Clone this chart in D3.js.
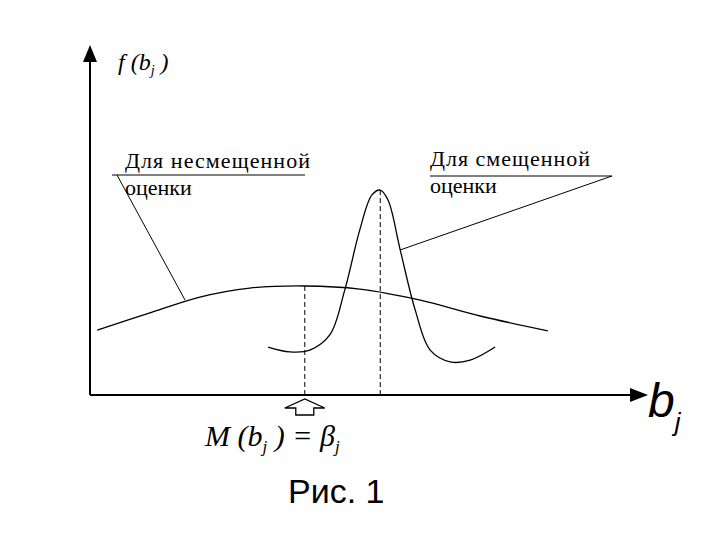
<!DOCTYPE html>
<html><head><meta charset="utf-8">
<script src="https://cdn.jsdelivr.net/npm/d3@7"></script>
<style>body{margin:0;background:#fff}</style></head>
<body><div class="canvas"></div>
<script>
// curves in chart units (x 0..100, y 0..100)
const unbiasedX = [1.3, 10.8, 19.8, 28.8, 38.7, 48.6, 59.5, 70.3, 82.5]
const unbiasedY = [18.8, 23.8, 28.4, 31.0, 31.6, 30.7, 27.5, 22.9, 18.6]
const biasedX = [32.1, 36.0, 39.6, 43.2, 45.9, 48.6, 50.8, 52.3, 53.7, 55.9, 58.6, 61.3, 64.9, 68.5, 73.0]
const biasedY = [13.9, 12.5, 13.0, 17.4, 30.4, 47.8, 58.0, 59.4, 56.5, 42.0, 24.6, 13.0, 9.6, 10.1, 13.9]
const peaks = [{ x: 38.7, y: 31.6 }, { x: 52.3, y: 59.4 }]
const labels = ['Для несмещенной', 'оценки', 'Для смещенной', 'оценки']

const svg = d3.select('.canvas').append('svg')
  .attr('width', 720).attr('height', 540)

const x = d3.scaleLinear().domain([0, 100]).range([90, 645])
const y = d3.scaleLinear().domain([0, 100]).range([395, 50])

// axes
svg.append('line').attr('x1', 90).attr('y1', 395).attr('x2', 90).attr('y2', 50)
  .attr('stroke', '#000').attr('stroke-width', 2)
svg.append('line').attr('x1', 90).attr('y1', 395).attr('x2', 645).attr('y2', 395)
  .attr('stroke', '#000').attr('stroke-width', 2)
svg.append('path').attr('d', 'M83,62 L90,45 L97,62 Z').attr('fill', '#000')
svg.append('path').attr('d', 'M630,388 L648,395 L630,402 Z').attr('fill', '#000')

const line = d3.line().x(d => x(d[0])).y(d => y(d[1])).curve(d3.curveCatmullRom)
svg.append('path').attr('d', line(d3.zip(unbiasedX, unbiasedY)))
  .attr('fill', 'none').attr('stroke', '#000').attr('stroke-width', 1.3)
svg.append('path').attr('d', line(d3.zip(biasedX, biasedY)))
  .attr('fill', 'none').attr('stroke', '#000').attr('stroke-width', 1.3)

svg.selectAll('line.drop').data(peaks).enter().append('line')
  .attr('x1', d => x(d.x)).attr('x2', d => x(d.x))
  .attr('y1', d => y(d.y)).attr('y2', 395)
  .attr('stroke', '#000').attr('stroke-dasharray', '5,3')

// hollow arrow under expectation
const ax = x(peaks[0].x)
svg.append('path')
  .attr('d', `M${ax - 9},415 L${ax - 9},408 L${ax - 20},408 L${ax},399 L${ax + 20},408 L${ax + 9},408 L${ax + 9},415 Z`)
  .attr('fill', 'none').attr('stroke', '#000').attr('stroke-width', 1.3)

// labels with leaders
const serif = 'Liberation Serif, Times New Roman, serif'
svg.append('text').attr('x', 125).attr('y', 168).text(labels[0])
  .attr('font-family', serif).attr('font-size', 22).attr('textLength', 185)
svg.append('text').attr('x', 125).attr('y', 195).text(labels[1])
  .attr('font-family', serif).attr('font-size', 22)
svg.append('line').attr('x1', 112).attr('y1', 175).attr('x2', 305).attr('y2', 175).attr('stroke', '#000')
svg.append('line').attr('x1', 117).attr('y1', 175).attr('x2', 185).attr('y2', 300).attr('stroke', '#000')

svg.append('text').attr('x', 430).attr('y', 166).text(labels[2])
  .attr('font-family', serif).attr('font-size', 22).attr('textLength', 160)
svg.append('text').attr('x', 430).attr('y', 193).text(labels[3])
  .attr('font-family', serif).attr('font-size', 22)
svg.append('line').attr('x1', 430).attr('y1', 176).attr('x2', 612).attr('y2', 176).attr('stroke', '#000')
svg.append('line').attr('x1', 612).attr('y1', 176).attr('x2', 400).attr('y2', 250).attr('stroke', '#000')

// axis titles
const fy = svg.append('text').attr('x', 118).attr('y', 70)
  .attr('font-family', serif).attr('font-size', 24).attr('font-style', 'italic')
fy.append('tspan').text('f (b')
fy.append('tspan').text('j').attr('font-size', 14).attr('dy', 5)
fy.append('tspan').text(' )').attr('dy', -5)

const bj = svg.append('text').attr('x', 648).attr('y', 417)
  .attr('font-family', 'Liberation Sans, Arial, sans-serif').attr('font-size', 48).attr('font-style', 'italic').attr('font-weight', 300)
bj.append('tspan').text('b')
bj.append('tspan').text('j').attr('font-size', 26).attr('dy', 14)

const m = svg.append('text').attr('x', 205).attr('y', 446)
  .attr('font-family', serif).attr('font-size', 30).attr('font-style', 'italic')
m.append('tspan').text('M (b')
m.append('tspan').text('j').attr('font-size', 17).attr('dy', 6)
m.append('tspan').text(' ) = β').attr('dy', -6)
m.append('tspan').text('j').attr('font-size', 17).attr('dy', 6)

svg.append('text').attr('x', 288).attr('y', 503).text('Рис. 1')
  .attr('font-family', 'Liberation Sans, Arial, sans-serif').attr('font-size', 34)
</script></body></html>
